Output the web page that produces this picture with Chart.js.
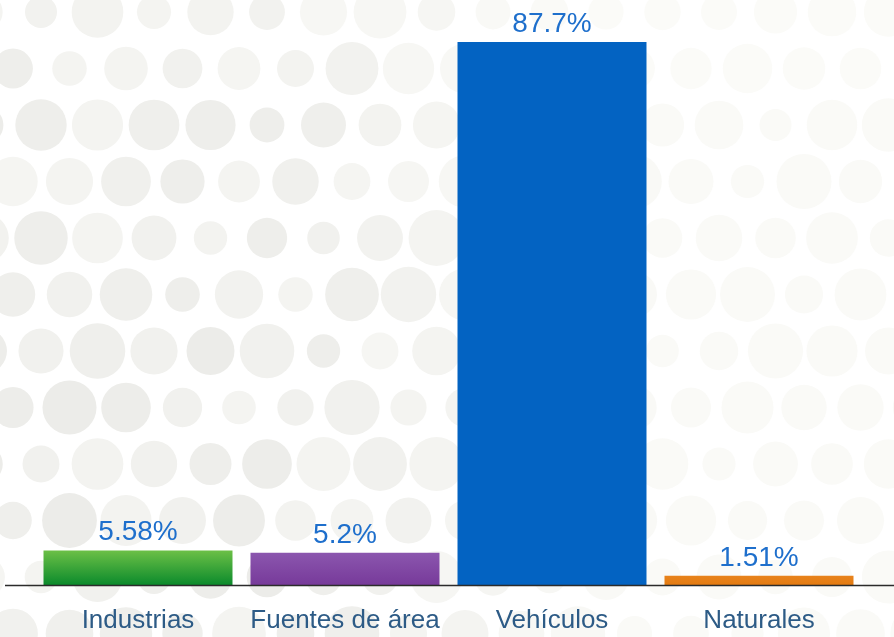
<!DOCTYPE html>
<html>
<head>
<meta charset="utf-8">
<script src="https://cdn.jsdelivr.net/npm/chart.js@4"></script>
<style>
html,body{margin:0;padding:0;background:#fff;}
#wrap{width:894px;height:637px;position:relative;}
</style>
</head>
<body>
<div id="wrap"><canvas id="c" width="894" height="637"></canvas></div>
<script>
const categories = ["Industrias", "Fuentes de área", "Vehículos", "Naturales"];
const values = [5.58, 5.2, 87.7, 1.51];
const valueLabels = ["5.58%", "5.2%", "87.7%", "1.51%"];
const barTop = ["#6cc046", "#8b56ae", "#0363c2", "#e8831c"];
const barBottom = ["#0b8a2c", "#773a9a", "#0363c2", "#e37b12"];

function hash(i, j) {
  const s = Math.sin(i * 127.1 + j * 311.7) * 43758.5453;
  return s - Math.floor(s);
}

const bgPlugin = {
  id: 'bgDots',
  beforeDraw(chart) {
    const ctx = chart.ctx;
    ctx.save();
    ctx.fillStyle = '#ffffff';
    ctx.fillRect(0, 0, chart.width, chart.height);
    const sx = 56.5, sy = 56.5;
    for (let r = 0; r < 13; r++) {
      const y = 12 + r * sy;
      const off = (r % 2 === 0) ? 41 : 13;
      for (let c = -1; c < 17; c++) {
        const x = off + c * sx;
        const h1 = hash(r, c), h2 = hash(c + 7, r + 3);
        const rad = 16 + h1 * 12;
        let fade = Math.max(0, Math.min(1, (x - 280) / 380));
        fade = Math.min(1, fade * 0.9 + Math.max(0, (120 - y) / 400));
        const base = 236 + h2 * 9;
        const g = Math.round(base + (251 - base) * fade);
        ctx.fillStyle = `rgb(${g},${g},${Math.max(0, g - 3)})`;
        ctx.beginPath();
        ctx.arc(x, y, rad, 0, Math.PI * 2);
        ctx.fill();
      }
    }
    ctx.restore();
  }
};

const overlayPlugin = {
  id: 'overlay',
  afterDatasetsDraw(chart) {
    const ctx = chart.ctx;
    const area = chart.chartArea;
    ctx.save();
    ctx.strokeStyle = '#2b2b2b';
    ctx.lineWidth = 1.5;
    ctx.beginPath();
    ctx.moveTo(5, area.bottom + 0.5);
    ctx.lineTo(chart.width, area.bottom + 0.5);
    ctx.stroke();
    const meta = chart.getDatasetMeta(0);
    ctx.fillStyle = '#1e6fcc';
    ctx.font = '28px "Liberation Sans", Arial, sans-serif';
    ctx.textAlign = 'center';
    ctx.textBaseline = 'alphabetic';
    meta.data.forEach((el, i) => {
      ctx.fillText(valueLabels[i], el.x, el.y - 10);
    });
    ctx.restore();
  }
};

new Chart(document.getElementById('c'), {
  type: 'bar',
  data: {
    labels: categories,
    datasets: [{
      data: values,
      backgroundColor: (context) => {
        const chart = context.chart;
        const i = context.dataIndex;
        if (!chart.chartArea || i === undefined) return barTop[i] || '#888';
        const y = chart.scales.y;
        const top = y.getPixelForValue(values[i]);
        const bot = y.getPixelForValue(0);
        const g = chart.ctx.createLinearGradient(0, top, 0, bot);
        g.addColorStop(0, barTop[i]);
        g.addColorStop(1, barBottom[i]);
        return g;
      },
      borderWidth: 0,
      categoryPercentage: 1,
      barPercentage: 0.913
    }]
  },
  options: {
    responsive: false,
    animation: false,
    events: [],
    layout: { padding: { left: 34.5, right: 31.5, top: 42, bottom: 0 } },
    plugins: { legend: { display: false }, tooltip: { enabled: false } },
    scales: {
      y: { display: false, min: 0, max: 87.7 },
      x: {
        grid: { display: false, drawTicks: false },
        border: { display: false },
        ticks: {
          color: '#2d5b86',
          font: { family: '"Liberation Sans", Arial, sans-serif', size: 26 },
          padding: 20,
          maxRotation: 0,
          autoSkip: false
        },
        afterFit(scale) { scale.height = 52; }
      }
    }
  },
  plugins: [bgPlugin, overlayPlugin]
});
</script>
</body>
</html>
